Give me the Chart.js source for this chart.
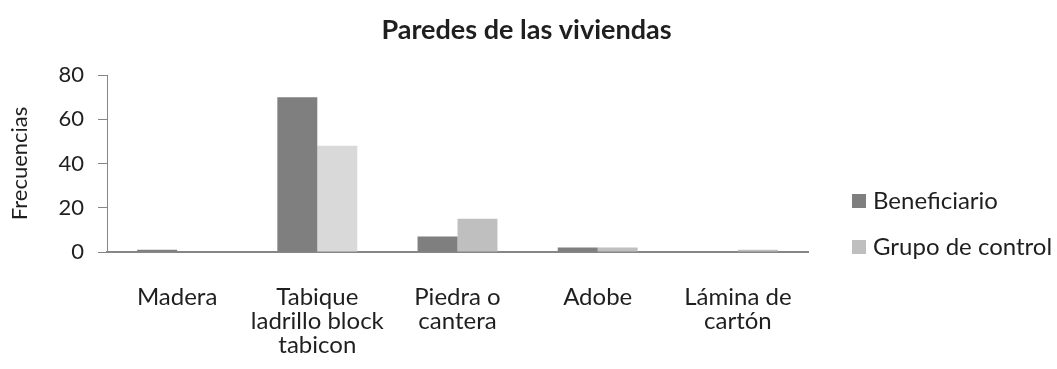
<!DOCTYPE html>
<html>
<head>
<meta charset="utf-8">
<script src="https://cdn.jsdelivr.net/npm/chart.js@4.4.1/dist/chart.umd.min.js"></script>
<style>
  html, body { margin: 0; padding: 0; background: #ffffff; }
  #wrap { width: 1057px; height: 369px; position: relative; }
</style>
</head>
<body>
<div id="wrap"><canvas id="chart" width="1057" height="369"></canvas></div>
<script>
// Wall material of the dwellings, counts per group
const categories = [
  ["Madera"],
  ["Tabique", "ladrillo block", "tabicon"],
  ["Piedra o", "cantera"],
  ["Adobe"],
  ["Lámina de", "cartón"]
];
const seriesNames = ["Beneficiario", "Grupo de control"];
const beneficiario = [1, 70, 7, 2, 0];
const grupoControl = [0, 48, 15, 2, 1];
const yTicks = [0, 20, 40, 60, 80];
const chartTitle = "Paredes de las viviendas";

const FONT = "Lato, 'Open Sans', sans-serif";
const TEXT = "#1f1f1f";
const AXIS = "#868686";
const colBenef = "#7f7f7f";
const colGrupo = ["#bfbfbf", "#d9d9d9", "#bfbfbf", "#bfbfbf", "#bfbfbf"];

// Title centred on the whole canvas, legend at the right
const decorations = {
  id: "decorations",
  afterDraw(chart) {
    const ctx = chart.ctx;
    ctx.save();
    ctx.fillStyle = TEXT;
    ctx.font = "bold 27px " + FONT;
    ctx.textAlign = "center";
    ctx.textBaseline = "middle";
    ctx.fillText(chartTitle, chart.width / 2 - 2, 30);

    const x0 = 852, ys = [201, 247], box = 14;
    ctx.font = "24px " + FONT;
    ctx.textAlign = "left";
    chart.data.datasets.forEach((ds, i) => {
      ctx.fillStyle = ds.legendColor;
      ctx.fillRect(x0, ys[i] - box / 2, box, box);
      ctx.fillStyle = TEXT;
      ctx.fillText(ds.label, x0 + 21, ys[i]);
    });
    ctx.restore();
  }
};

new Chart(document.getElementById("chart"), {
  type: "bar",
  data: {
    labels: categories,
    datasets: [
      { label: seriesNames[0], data: beneficiario, backgroundColor: colBenef, legendColor: colBenef,
        borderWidth: 0, categoryPercentage: 0.57, barPercentage: 1.0 },
      { label: seriesNames[1], data: grupoControl, backgroundColor: colGrupo, legendColor: "#bfbfbf",
        borderWidth: 0, categoryPercentage: 0.57, barPercentage: 1.0 }
    ]
  },
  options: {
    responsive: false,
    animation: false,
    devicePixelRatio: 1,
    layout: { padding: { left: 0, right: 249, top: 75, bottom: 0 } },
    plugins: {
      legend: { display: false },
      tooltip: { enabled: false },
      title: { display: false }
    },
    scales: {
      x: {
        grid: { display: false, drawTicks: false },
        border: { display: true, color: AXIS, width: 2 },
        ticks: {
          color: TEXT,
          font: { family: FONT, size: 24, lineHeight: 1.0 },
          padding: 33,
          maxRotation: 0,
          autoSkip: false
        },
        afterFit(scale) { scale.height = 117; }
      },
      y: {
        min: 0,
        max: 80,
        afterBuildTicks(scale) { scale.ticks = yTicks.map(v => ({ value: v })); },
        grid: { drawOnChartArea: false, drawTicks: true, tickLength: 9, color: AXIS, lineWidth: 1 },
        border: { display: true, color: AXIS, width: 1 },
        ticks: { color: TEXT, font: { family: FONT, size: 22 }, padding: 14 },
        title: {
          display: true,
          text: "Frecuencias",
          color: TEXT,
          font: { family: FONT, size: 22, lineHeight: 1.0 },
          padding: { top: 9, bottom: 0 }
        },
        afterFit(scale) { scale.width = 107; }
      }
    }
  },
  plugins: [decorations]
});
</script>
</body>
</html>
